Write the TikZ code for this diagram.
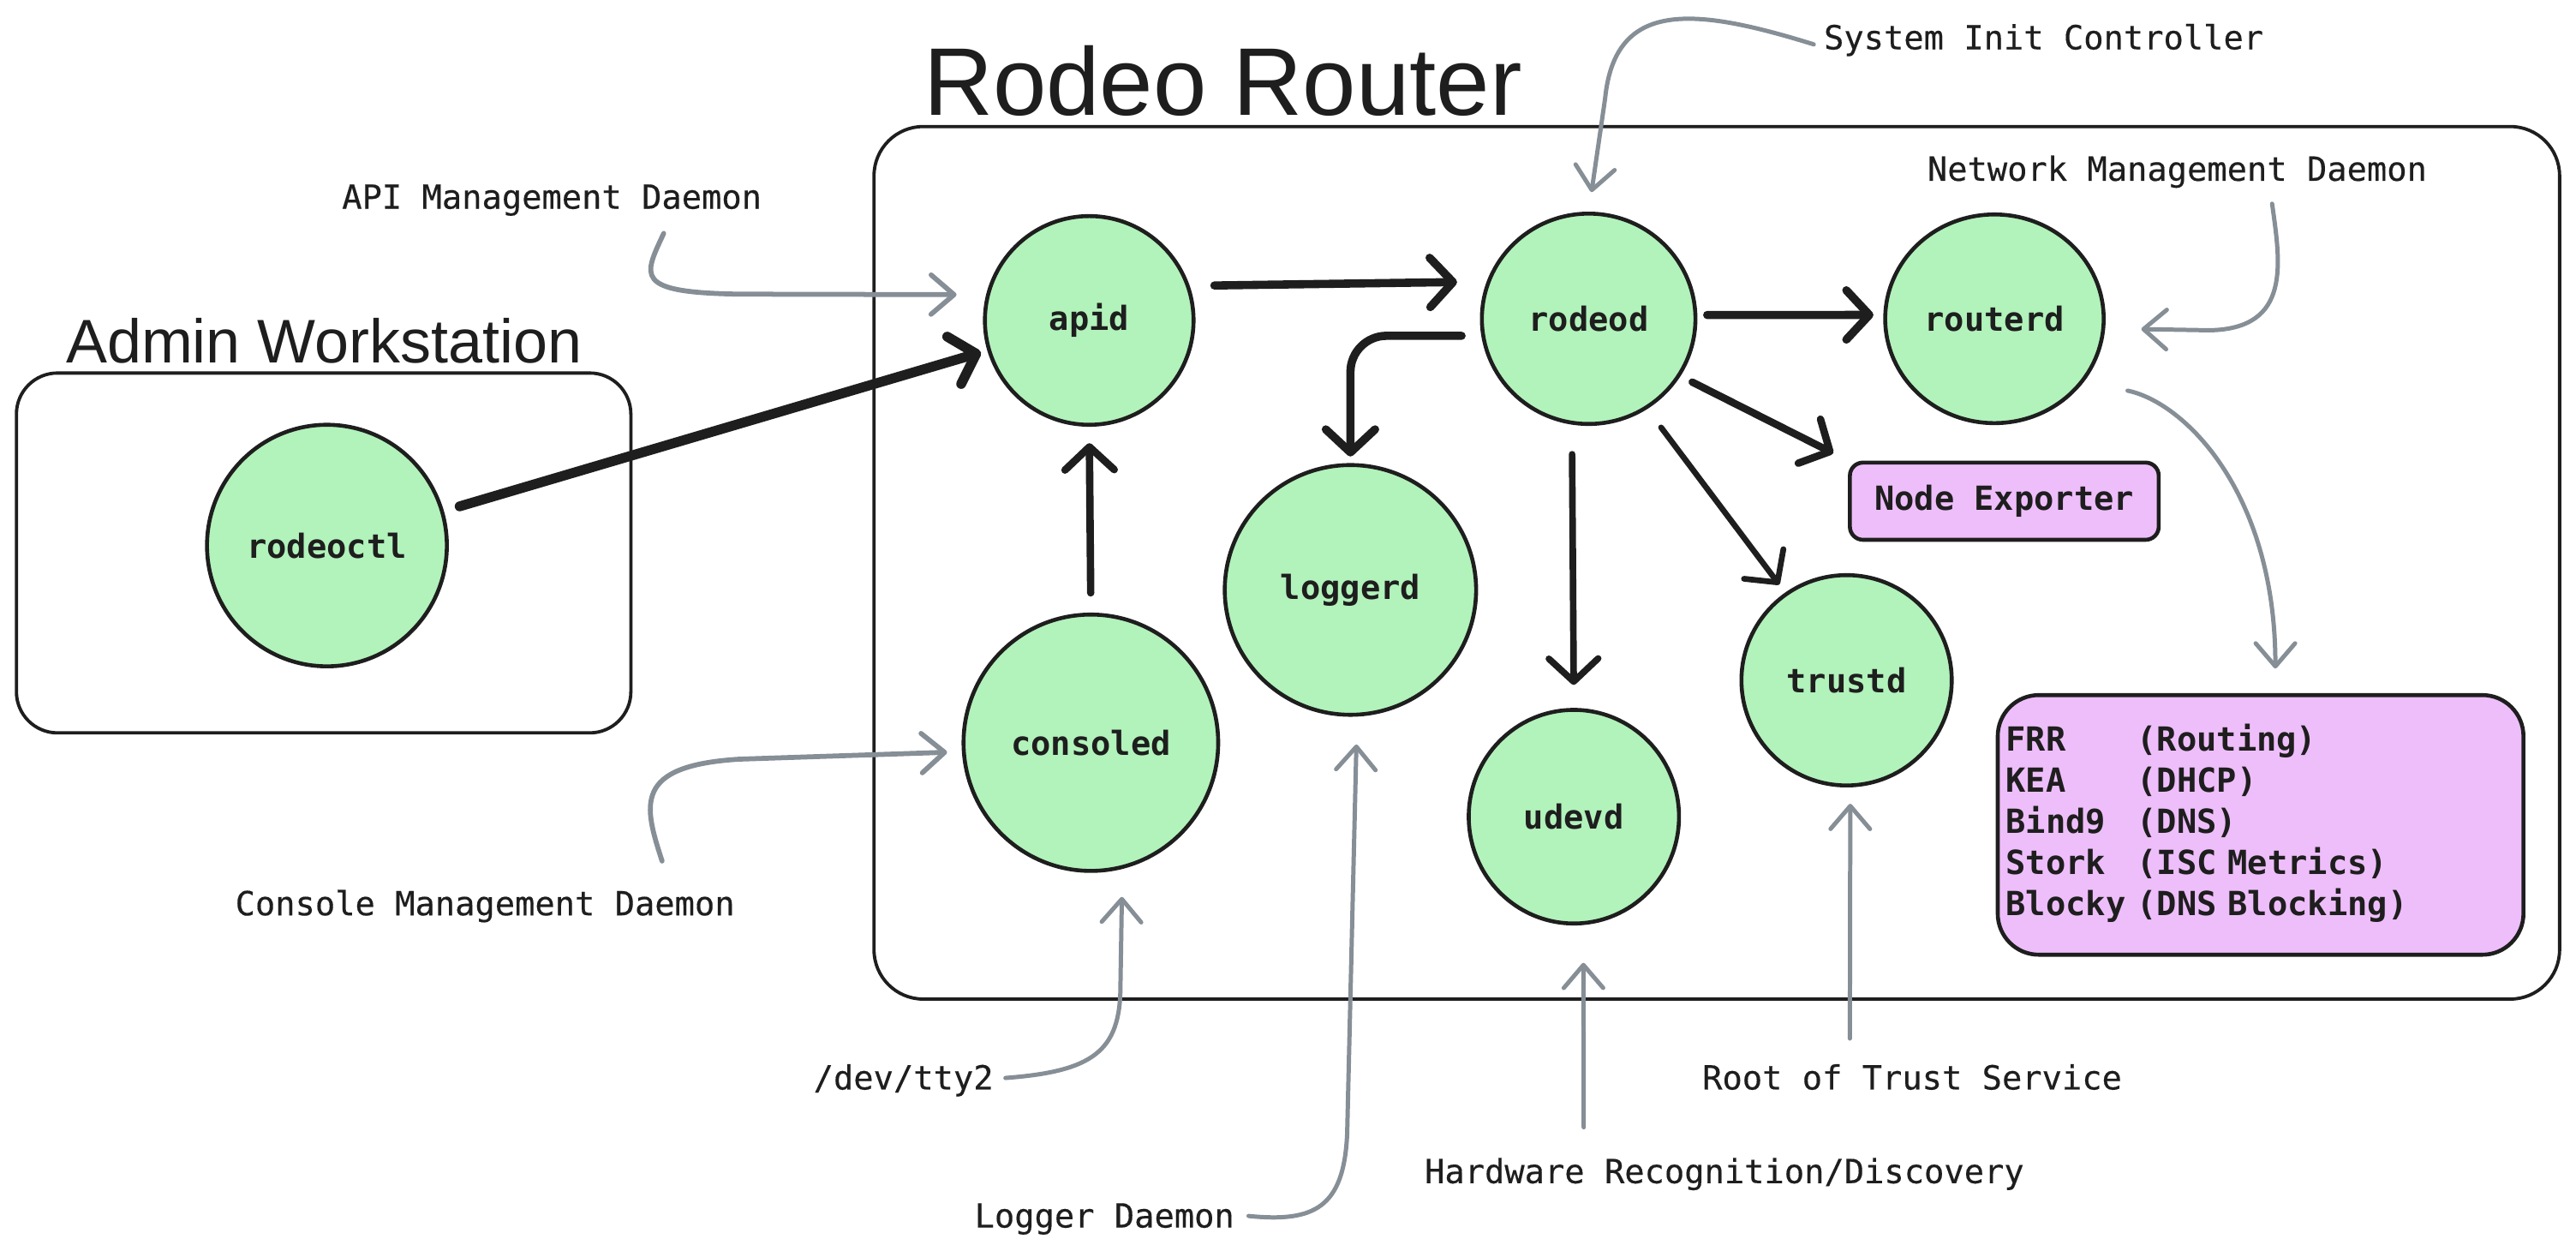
\documentclass[tikz,border=0pt]{standalone}
\usepackage{fontspec}
\setmainfont{Liberation Sans}
\newfontfamily\monofont{DejaVu Sans Mono}
\newfontfamily\monomed[FakeBold=0.35]{DejaVu Sans Mono}
\usetikzlibrary{arrows.meta,shapes.geometric,calc}
\definecolor{nodegreen}{HTML}{B2F2BB}
\definecolor{boxpink}{HTML}{EEBEFA}
\definecolor{strokec}{HTML}{1E1E1E}
\definecolor{arrowgray}{HTML}{868E96}
\begin{document}
\begin{tikzpicture}[x=1pt,y=-1pt,
  daemon/.style={ellipse, draw=strokec, fill=nodegreen, line width=2.4pt,
    font=\monofont\bfseries\fontsize{20.2}{25}\selectfont, text=strokec, inner sep=0pt},
  pinkbox/.style={rectangle, draw=strokec, fill=boxpink, line width=2.4pt, rounded corners=8pt,
    font=\monofont\bfseries\fontsize{20.2}{25}\selectfont, text=strokec, inner sep=0pt},
  container/.style={rectangle, draw=strokec, line width=2pt, inner sep=0pt},
  lbl/.style={font=\monomed\fontsize{20.2}{25}\selectfont, inner sep=0pt, anchor=base west, text=strokec},
  titlelbl/.style={inner sep=0pt, anchor=base west, text=strokec},
  blackarrow/.style={draw=strokec, line width=5pt, line cap=round, line join=round,
    -{Straight Barb[length=14pt,width=30pt,round]}},
  grayarrow/.style={draw=arrowgray, line width=2.6pt, line cap=round, line join=round,
    -{Straight Barb[length=14pt,width=24pt,round]}},
]
\useasboundingbox (0,0) rectangle (1568,761);

% containers
\node[container, rounded corners=25pt, minimum width=374pt, minimum height=219pt] (adminbox) at (197,336.5) {};
\node[container, rounded corners=30pt, minimum width=1026pt, minimum height=531pt] (routerbox) at (1045,342.5) {};
\node[titlelbl, font=\fontsize{37.5}{40}\selectfont] (admintitle) at (40,221) {Admin Workstation};
\node[titlelbl, font=\fontsize{58.5}{62}\selectfont] (routertitle) at (562,70) {Rodeo Router};

% daemons
\node[daemon, minimum width=146pt, minimum height=147pt] (rodeoctl) at (199,332) {rodeoctl};
\node[daemon, minimum width=127pt, minimum height=127pt] (apid) at (663,195) {apid};
\node[daemon, minimum width=130pt, minimum height=128pt] (rodeod) at (967,194) {rodeod};
\node[daemon, minimum width=133pt, minimum height=127pt] (routerd) at (1214,194) {routerd};
\node[daemon, minimum width=153pt, minimum height=152pt] (loggerd) at (822,359) {loggerd};
\node[daemon, minimum width=155pt, minimum height=156pt] (consoled) at (664,452) {consoled};
\node[daemon, minimum width=128pt, minimum height=130pt] (udevd) at (958,497) {udevd};
\node[daemon, minimum width=128pt, minimum height=128pt] (trustd) at (1124,414) {trustd};

% pink boxes
\node[pinkbox, minimum width=188pt, minimum height=47pt] (nodeexp) at (1220,305) {\raisebox{-1.5pt}{Node Exporter}};
\node[pinkbox, rounded corners=25pt, minimum width=320pt, minimum height=158pt,
  text width=310pt, inner xsep=5pt, align=left] (svcbox) at (1376,502)
  {\begin{tabular}{@{}l@{\ }l@{}}
   FRR & (Routing)\\
   KEA & (DHCP)\\
   Bind9 & (DNS)\\
   Stork & (ISC Metrics)\\
   Blocky & (DNS Blocking)
   \end{tabular}};

% annotation labels
\node[lbl] (sysinit) at (1110,30) {System Init Controller};
\node[lbl] (apilbl) at (208,127) {API Management Daemon};
\node[lbl] (netlbl) at (1173,110) {Network Management Daemon};
\node[lbl] (conlbl) at (143,557) {Console Management Daemon};
\node[lbl] (ttylbl) at (495,663) {/dev/tty2};
\node[lbl] (loglbl) at (593,747) {Logger Daemon};
\node[lbl] (hwlbl) at (867,720) {Hardware Recognition/Discovery};
\node[lbl] (rotlbl) at (1036,663) {Root of Trust Service};

% black arrows
\draw[blackarrow, line width=6pt, shorten <=10pt, shorten >=4pt] (rodeoctl) -- (apid);
\draw[blackarrow, shorten <=15pt, shorten >=18pt] (apid.19) -- (rodeod.160);
\draw[blackarrow, shorten <=6pt, shorten >=6pt] (rodeod.2) -- (routerd.178);
\draw[blackarrow, rounded corners=22pt, shorten <=12pt, shorten >=4pt] (rodeod.189) -| (loggerd.north);
\draw[blackarrow, line width=4.5pt, shorten <=8pt, shorten >=10pt] (rodeod.-32) -- (nodeexp.north west);
\draw[blackarrow, line width=3.5pt, shorten <=14pt, shorten >=6pt] (rodeod.-57) -- (trustd.125);
\draw[blackarrow, line width=4pt, shorten <=18pt, shorten >=14pt] (rodeod.261) -- (udevd.north);
\draw[blackarrow, line width=4.5pt, shorten <=12pt, shorten >=10pt] (consoled.north) -- (apid.south);

% gray annotation arrows
\coordinate (apiS) at (404,142);
\coordinate (sysS) at (1104,27);
\coordinate (netS) at (1383,124);
\coordinate (conS) at (403,524);
\coordinate (ttyS) at (612,656);
\coordinate (logS) at (760,740);
\coordinate (hwS) at (964,686);
\coordinate (rotS) at (1126,632);

\draw[grayarrow, line width=3pt, shorten >=18pt] (apiS) .. controls (392,168) and (385,178) .. (450,179) -- (apid.166);
\draw[grayarrow, shorten >=12pt] (sysS) .. controls (1030,4) and (983,0) .. (977,60) -- (rodeod.north);
\draw[grayarrow, shorten >=22pt] (netS) .. controls (1388,160) and (1395,200) .. (1345,201) -- (routerd.-5);
\draw[grayarrow, shorten <=27pt, shorten >=15pt] (routerd.-35) .. controls (1330,245) and (1385,300) .. ([xshift=9pt]svcbox.north);
\draw[grayarrow, line width=3pt, shorten >=9pt] (conS) .. controls (392,490) and (385,466) .. (450,462) -- (consoled.184);
\draw[grayarrow, shorten >=17pt] (ttyS) .. controls (665,652) and (682,640) .. (682,600) -- (consoled.-76);
\draw[grayarrow, shorten >=17pt] (logS) .. controls (800,744) and (818,735) .. (820,690) -- (loggerd.-87);
\draw[grayarrow, shorten >=23pt] (hwS) -- (udevd.-85);
\draw[grayarrow, shorten >=10pt] (rotS) -- (trustd.-88);
\end{tikzpicture}
\end{document}
